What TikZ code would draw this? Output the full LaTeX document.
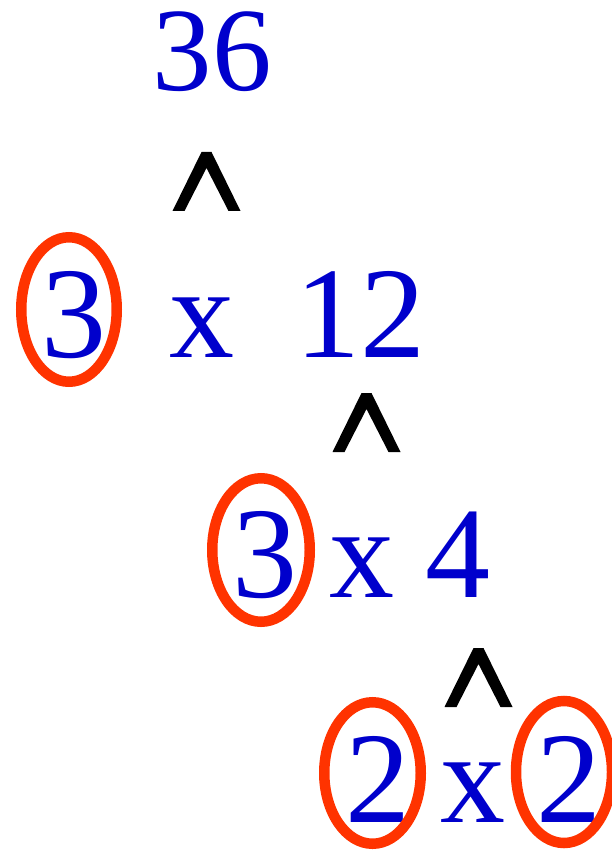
\documentclass[tikz,border=0pt]{standalone}
\usepackage{fontspec}
\setmainfont{Liberation Serif}
\definecolor{numblue}{HTML}{0000CC}
\definecolor{ringred}{HTML}{FF3300}
\begin{document}
\begin{tikzpicture}[x=1pt,y=-1pt,
  num/.style={text=numblue, inner sep=0pt, outer sep=0pt, anchor=base west,
    text height=0.69em, text depth=0.02em,
    font=\fontsize{130}{130}\selectfont},
  bignum/.style={num, font=\fontsize{119}{119}\selectfont},
  ring/.style={draw=ringred, line width=10.5pt},
  caretpic/.pic={\fill[black] (-5,0) -- (5,0) -- (34,59) -- (22,59) -- (0,16) -- (-22,59) -- (-34,59) -- cycle;}]
\useasboundingbox (0,0) rectangle (612,850);
% row 1
\node[bignum] (n36) at (152.9,91) {36};
\pic at (206.5,152) {caretpic};
% row 2
\node[num] (r2a) at (41.4,357) {3};
\node[num] (r2x) at (169.8,357) {x};
\node[num] (r2b) at (295.6,357) {12};
\draw[ring] (69,309.5) ellipse [x radius=47.75, y radius=72.25];
\pic at (366.5,393) {caretpic};
% row 3
\node[num] (r3a) at (232.4,597) {3};
\node[num] (r3x) at (329.8,597) {x};
\node[num] (r3b) at (425.4,597) {4};
\draw[ring] (261,550) ellipse [x radius=48.75, y radius=71.75];
\pic at (478.5,648) {caretpic};
% row 4
\node[num] (r4a) at (345.1,822) {2};
\node[num] (r4x) at (440.8,822) {x};
\node[num] (r4b) at (536.1,822) {2};
\draw[ring] (372.5,773) ellipse [x radius=48.25, y radius=70.75];
\draw[ring] (564,772) ellipse [x radius=48, y radius=71];
\end{tikzpicture}
\end{document}
